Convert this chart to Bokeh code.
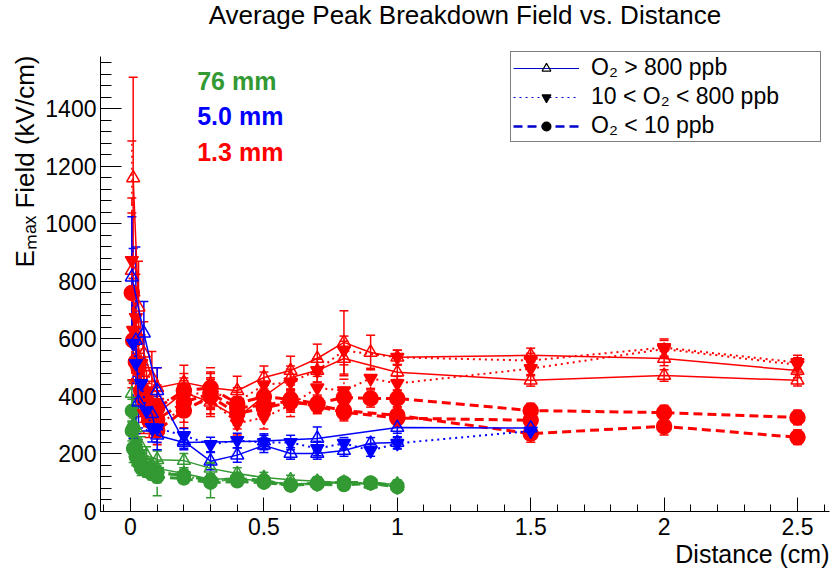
import numpy as np
from bokeh.plotting import figure
from bokeh.models import (Range1d, SingleIntervalTicker, NumeralTickFormatter, Whisker, TeeHead,
                          ColumnDataSource, Label, Legend, LegendItem, Title)
from bokeh.embed import file_html
from bokeh.resources import INLINE

# ---------------- data (distance in cm, field in kV/cm) ----------------
# Green: 76 mm
G_TRI1_X = [0.005, 0.02, 0.04, 0.06, 0.1, 0.2, 0.3, 0.4, 0.5, 0.6, 0.7, 0.8, 0.9, 1.0]
G_TRI1_Y = [410, 290, 225, 195, 180, 177, 150, 132, 118, 110, 105, 100, 98, 95]
G_TRI1_E = [45, 40, 35, 30, 30, 25, 20, 20, 18, 16, 16, 15, 15, 15]
G_TRI2_X = [0.01, 0.03, 0.05, 0.08, 0.1, 0.2, 0.3, 0.4, 0.5, 0.6, 0.7, 0.8, 0.9, 1.0]
G_TRI2_Y = [300, 215, 185, 160, 150, 132, 112, 115, 105, 96, 98, 100, 95, 88]
G_TRI2_E = [40, 35, 30, 25, 25, 20, 18, 18, 15, 15, 15, 15, 15, 15]
G_DTRI_X = [0.01, 0.02, 0.03, 0.05, 0.07, 0.1, 0.2, 0.3, 0.4, 0.5, 0.6, 0.7, 0.8, 0.9, 1.0]
G_DTRI_Y = [200, 190, 175, 160, 150, 140, 125, 105, 112, 102, 92, 96, 100, 99, 85]
G_DTRI_E = [30, 30, 25, 25, 20, 20, 18, 15, 15, 15, 15, 15, 15, 15, 15]
G_CIRC_X = [0.005, 0.01, 0.02, 0.03, 0.04, 0.06, 0.08, 0.1, 0.2, 0.3, 0.4, 0.5, 0.6, 0.7, 0.8, 0.9, 1.0]
G_CIRC1_Y = [350, 290, 225, 190, 165, 150, 140, 135, 125, 108, 115, 108, 90, 101, 101, 101, 90]
G_CIRC1_E = [40, 35, 30, 30, 25, 25, 25, 80, 20, 60, 18, 15, 15, 15, 15, 15, 15]
G_CIRC2_Y = [280, 220, 190, 170, 150, 140, 130, 120, 115, 100, 105, 100, 92, 95, 92, 98, 85]
G_CIRC2_E = [35, 30, 30, 25, 25, 20, 20, 20, 18, 15, 15, 15, 15, 15, 15, 15, 15]

# Red: 1.3 mm
R_TRI1_X = [0.01, 0.03, 0.05, 0.08, 0.1, 0.2, 0.3, 0.4, 0.5, 0.6, 0.7, 0.8, 0.9, 1.0, 1.5, 2.0, 2.5]
R_TRI1_Y = [1160, 710, 550, 466, 430, 449, 430, 420, 466, 490, 532, 588, 553, 536, 543, 532, 490]
R_TRI1_E = [350, 160, 110, 90, 70, 60, 55, 50, 40, 50, 50, 110, 60, 25, 25, 25, 25]
R_TRI2_X = [0.005, 0.02, 0.06, 0.1, 0.2, 0.3, 0.4, 0.5, 0.6, 0.7, 0.8, 1.0, 1.5, 2.0, 2.5]
R_TRI2_Y = [838, 620, 410, 341, 414, 380, 327, 400, 466, 490, 532, 484, 456, 473, 456]
R_TRI2_E = [200, 130, 80, 60, 50, 50, 40, 40, 40, 40, 60, 25, 20, 20, 20]
R_DTRI1_X = [0.005, 0.02, 0.04, 0.07, 0.1, 0.2, 0.3, 0.4, 0.5, 0.6, 0.7, 0.8, 1.0, 1.5, 2.0, 2.5]
R_DTRI1_Y = [873, 675, 515, 420, 380, 400, 420, 380, 440, 450, 490, 560, 536, 525, 570, 518]
R_DTRI1_E = [415, 150, 100, 80, 60, 55, 60, 50, 45, 45, 40, 50, 25, 25, 30, 25]
R_DTRI2_X = [0.01, 0.03, 0.05, 0.1, 0.2, 0.3, 0.4, 0.5, 0.6, 0.7, 0.8, 0.9, 1.0, 1.5, 2.0, 2.5]
R_DTRI2_Y = [630, 480, 341, 300, 360, 390, 306, 327, 370, 430, 420, 463, 445, 497, 565, 510]
R_DTRI2_E = [180, 110, 70, 60, 50, 50, 40, 40, 40, 40, 40, 35, 25, 25, 30, 25]
R_CIRC1_X = [0.005, 0.03, 0.06, 0.1, 0.2, 0.3, 0.4, 0.5, 0.6, 0.7, 0.8, 0.9, 1.0, 1.5, 2.0, 2.5]
R_CIRC1_Y = [760, 500, 375, 360, 420, 430, 375, 400, 390, 375, 397, 393, 393, 351, 344, 327]
R_CIRC1_E = [330, 110, 70, 60, 60, 70, 40, 45, 35, 30, 35, 30, 30, 25, 25, 25]
R_CIRC2_X = [0.01, 0.04, 0.07, 0.1, 0.2, 0.3, 0.4, 0.5, 0.6, 0.7, 0.8, 1.0, 1.5, 2.0, 2.5]
R_CIRC2_Y = [595, 420, 317, 282, 351, 400, 340, 360, 380, 370, 351, 334, 271, 296, 258]
R_CIRC2_E = [150, 90, 60, 50, 60, 60, 40, 40, 35, 30, 30, 30, 30, 30, 25]
R_CIRC3_X = [0.02, 0.05, 0.1, 0.2, 0.3, 0.4, 0.5, 0.6, 0.8, 1.0, 1.5]
R_CIRC3_Y = [520, 390, 320, 380, 410, 360, 370, 385, 345, 325, 317]
R_CIRC3_E = [120, 80, 60, 50, 55, 40, 40, 35, 30, 30, 30]

# Blue: 5.0 mm
B_TRI1_X = [0.005, 0.05, 0.1, 0.2, 0.3, 0.4, 0.5, 0.6, 0.7, 0.8, 0.9, 1.0]
B_TRI1_Y = [815, 620, 420, 245, 175, 196, 230, 202, 202, 212, 237, 240]
B_TRI1_E = [210, 110, 80, 25, 30, 25, 25, 20, 20, 20, 20, 20]
B_TRI2_X = [0.02, 0.03, 0.08, 0.1, 0.2, 0.5, 0.7, 1.0, 1.5]
B_TRI2_Y = [595, 380, 340, 265, 240, 245, 254, 292, 290]
B_TRI2_E = [325, 90, 60, 50, 25, 25, 40, 20, 20]
B_DTRI_X = [0.01, 0.02, 0.04, 0.06, 0.08, 0.1, 0.2, 0.3, 0.4, 0.5, 0.6, 0.7, 0.8, 0.9, 1.0, 1.5]
B_DTRI_Y = [585, 515, 445, 350, 292, 290, 264, 233, 247, 240, 240, 219, 237, 212, 237, 280]
B_DTRI_E = [330, 120, 90, 70, 50, 50, 25, 25, 25, 25, 25, 25, 20, 20, 20, 20]

LEGEND_LABELS = ["O\u2082 > 800 ppb", "10 < O\u2082 < 800 ppb", "O\u2082 < 10 ppb"]
GAP_LABELS = ["76 mm", "5.0 mm", "1.3 mm"]
GAP_LABEL_Y = [1447, 1325, 1203]
GAP_LABEL_X = 0.25
TITLE = "Average Peak Breakdown Field vs. Distance"
TITLE_Y = 1675          # title baseline, in field units above the axis top
X_TITLE = "Distance (cm)"
Y_TITLE = "E\u2098\u2090\u2093 Field (kV/cm)"

# ---------------- styling / layout ----------------
GREEN, BLUE, RED = "#339933", "#0000ff", "#ff0000"
FONT = "Liberation Sans"
X_START, X_END = -0.1125, 2.62
Y_START, Y_AXIS_TOP, Y_VIEW_TOP = 0, 1583, 1777

p = figure(width=830, height=573, x_range=Range1d(X_START, X_END),
           y_range=Range1d(Y_START, Y_VIEW_TOP),
           output_backend="svg", toolbar_location=None,
           min_border_left=100, min_border_right=1, min_border_top=0, min_border_bottom=62)
p.outline_line_color = None
p.grid.visible = False
p.background_fill_color = "white"
p.border_fill_color = "white"

p.add_layout(Title(text=X_TITLE, align="right", text_font=FONT, text_font_size="25px",
                   text_font_style="normal", text_color="black", standoff=0), "below")
p.add_layout(Title(text=Y_TITLE, align="right", text_font=FONT, text_font_size="26px",
                   text_font_style="normal", text_color="black", standoff=6, offset=55), "left")

p.xaxis.ticker = SingleIntervalTicker(interval=0.5, num_minor_ticks=5)
p.yaxis.ticker = SingleIntervalTicker(interval=200, num_minor_ticks=5)
p.yaxis.bounds = (Y_START, Y_AXIS_TOP)
p.xaxis.formatter = NumeralTickFormatter(format="0.[0]")
for ax in (p.xaxis, p.yaxis):
    ax.axis_line_color = "black"
    ax.axis_line_width = 1
    ax.major_tick_line_color = "black"
    ax.minor_tick_line_color = "black"
    ax.major_tick_out = 0
    ax.minor_tick_out = 0
    ax.major_label_text_font = FONT
    ax.major_label_text_font_size = "23px"
    ax.major_label_text_color = "black"
p.yaxis.major_tick_in = 21
p.yaxis.minor_tick_in = 11
p.xaxis.major_tick_in = 14
p.xaxis.minor_tick_in = 7
p.yaxis.major_label_standoff = 4
p.xaxis.major_label_standoff = 6

STYLES = {
    "tri": dict(marker="triangle", fill=None, dash="solid", lw=1.5),
    "dtri": dict(marker="inverted_triangle", fill="same", dash="2 4", lw=2),
    "circ": dict(marker="circle", fill="same", dash="9 5", lw=3),
}


def add_series(xs, ys, es, color, kind, size=13):
    st = STYLES[kind]
    xs = np.asarray(xs, float)
    ys = np.asarray(ys, float)
    es = np.asarray(es, float)
    src = ColumnDataSource(dict(x=xs, y=ys, lo=ys - es, hi=ys + es))
    p.line("x", "y", source=src, line_color=color, line_width=st["lw"], line_dash=st["dash"])
    w = Whisker(base="x", upper="hi", lower="lo", source=src, dimension="height",
                line_color=color, line_width=1.5, line_dash=st["dash"],
                upper_head=TeeHead(size=9, line_color=color, line_width=1.5),
                lower_head=TeeHead(size=9, line_color=color, line_width=1.5))
    p.add_layout(w)
    fill = color if st["fill"] == "same" else None
    p.scatter("x", "y", source=src, marker=st["marker"], size=size,
              line_color=color, fill_color=fill, line_width=1.5)


# green
add_series(G_TRI1_X, G_TRI1_Y, G_TRI1_E, GREEN, "tri")
add_series(G_TRI2_X, G_TRI2_Y, G_TRI2_E, GREEN, "tri")
add_series(G_DTRI_X, G_DTRI_Y, G_DTRI_E, GREEN, "dtri")
add_series(G_CIRC_X, G_CIRC1_Y, G_CIRC1_E, GREEN, "circ")
add_series(G_CIRC_X, G_CIRC2_Y, G_CIRC2_E, GREEN, "circ")
# red
add_series(R_TRI1_X, R_TRI1_Y, R_TRI1_E, RED, "tri")
add_series(R_TRI2_X, R_TRI2_Y, R_TRI2_E, RED, "tri")
add_series(R_DTRI1_X, R_DTRI1_Y, R_DTRI1_E, RED, "dtri")
add_series(R_DTRI2_X, R_DTRI2_Y, R_DTRI2_E, RED, "dtri")
add_series(R_CIRC1_X, R_CIRC1_Y, R_CIRC1_E, RED, "circ", size=15)
add_series(R_CIRC2_X, R_CIRC2_Y, R_CIRC2_E, RED, "circ", size=15)
add_series(R_CIRC3_X, R_CIRC3_Y, R_CIRC3_E, RED, "circ", size=15)
# blue
add_series(B_TRI1_X, B_TRI1_Y, B_TRI1_E, BLUE, "tri")
add_series(B_TRI2_X, B_TRI2_Y, B_TRI2_E, BLUE, "tri")
add_series(B_DTRI_X, B_DTRI_Y, B_DTRI_E, BLUE, "dtri")

# legend (line style in blue, marker in black, as in the original); NaN = nothing drawn in the frame
items = []
for lab, kind in zip(LEGEND_LABELS, ["tri", "dtri", "circ"]):
    st = STYLES[kind]
    lr = p.line(x=[np.nan, np.nan], y=[np.nan, np.nan], line_color="#0000cc",
                line_width=1.2 if kind != "circ" else 2.5, line_dash=st["dash"])
    sr = p.scatter(x=[np.nan], y=[np.nan], marker=st["marker"], size=11, line_color="black",
                   fill_color=None if st["fill"] is None else "black", line_width=1.2)
    items.append(LegendItem(label=lab, renderers=[lr, sr]))
leg = Legend(items=items, location=(410, 369), orientation="vertical",
             border_line_color="black", border_line_width=1, background_fill_color="white",
             background_fill_alpha=1, label_text_font=FONT, label_text_font_size="23px",
             label_text_color="black", glyph_width=66, glyph_height=22, label_height=27,
             label_width=227, label_standoff=12, padding=2, spacing=2, margin=0)
p.add_layout(leg, "center")

# gap labels
for lab, col, yv in zip(GAP_LABELS, [GREEN, BLUE, RED], GAP_LABEL_Y):
    p.add_layout(Label(x=GAP_LABEL_X, y=yv, text=lab, text_color=col, text_font=FONT,
                       text_font_size="25px", text_font_style="bold"))

# main title, drawn in the area above the axis top
p.add_layout(Label(x=(X_START + X_END) / 2, y=TITLE_Y, text=TITLE, text_align="center",
                   text_font=FONT, text_font_size="26px", text_color="black"))

open("out.html", "w").write(file_html(p, INLINE))
